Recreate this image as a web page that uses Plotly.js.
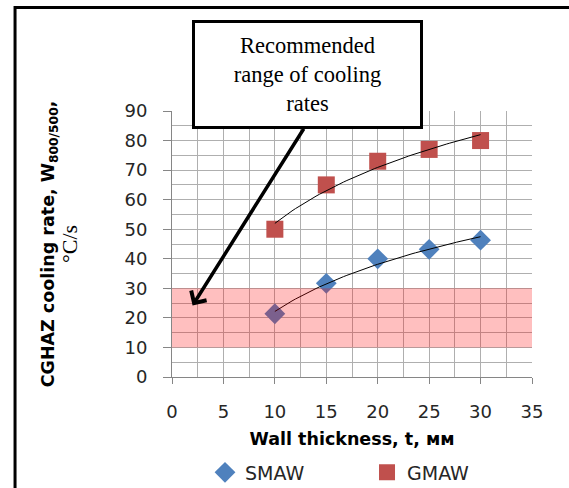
<!DOCTYPE html>
<html>
<head>
<meta charset="utf-8">
<script src="https://cdn.plot.ly/plotly-3.0.1.min.js"></script>
<style>html,body{margin:0;padding:0;background:#fff;}#chart{width:569px;height:488px;}</style>
</head>
<body>
<div id="chart"></div>
<script>
// Data
var thickness = [10, 15, 20, 25, 30];
var smaw = [21.4, 31.7, 40, 43.2, 46.3];
var gmaw = [50, 65, 73, 77, 80];
var xTicks = [0, 5, 10, 15, 20, 25, 30, 35];
var yTicks = [0, 10, 20, 30, 40, 50, 60, 70, 80, 90];
var bandLow = 10, bandHigh = 30;          // recommended range of cooling rates
var arrowTarget = [2, 24.2], arrowTail = [12.9, 84.5];

// Logarithmic trendline (least squares on ln x), like the spreadsheet trendline
function logFit(xs, ys) {
  var lx = xs.map(Math.log);
  var n = xs.length;
  var mx = lx.reduce(function(a,b){return a+b;},0)/n;
  var my = ys.reduce(function(a,b){return a+b;},0)/n;
  var sxy = 0, sxx = 0;
  for (var i = 0; i < n; i++) { sxy += (lx[i]-mx)*(ys[i]-my); sxx += (lx[i]-mx)*(lx[i]-mx); }
  var a = sxy/sxx, b = my - a*mx;
  var tx = [], ty = [];
  var x0 = Math.min.apply(null, xs), x1 = Math.max.apply(null, xs);
  for (var k = 0; k <= 60; k++) { var x = x0 + (x1-x0)*k/60; tx.push(x); ty.push(a*Math.log(x)+b); }
  return {x: tx, y: ty};
}
var smawFit = logFit(thickness, smaw);
var gmawFit = logFit(thickness, gmaw);

var traces = [
  {x: thickness, y: smaw, name: 'SMAW', type: 'scatter', mode: 'markers', legend: 'legend',
   marker: {symbol: 'diamond', size: 16, color: '#4F81BD'}},
  {x: thickness, y: gmaw, name: 'GMAW', type: 'scatter', mode: 'markers', legend: 'legend2',
   marker: {symbol: 'square', size: 17, color: '#C0504D'}},
  {x: smawFit.x, y: smawFit.y, type: 'scatter', mode: 'lines', showlegend: false, hoverinfo: 'skip',
   line: {color: '#000', width: 1}},
  {x: gmawFit.x, y: gmawFit.y, type: 'scatter', mode: 'lines', showlegend: false, hoverinfo: 'skip',
   line: {color: '#000', width: 1}}
];

var gridCol = '#AFAFAF';
var tickFont = {family: '"DejaVu Sans", sans-serif', size: 18, color: '#262626'};
var titleFont = {family: '"DejaVu Sans", sans-serif', size: 17.5, color: '#000'};
var legFont = {family: '"DejaVu Sans", sans-serif', size: 19, color: '#262626'};
var layout = {
  width: 569, height: 488, autosize: false,
  margin: {l: 172, r: 37, t: 111, b: 111, pad: 0, autoexpand: false},
  paper_bgcolor: '#fff', plot_bgcolor: '#fff',
  font: {family: '"DejaVu Sans", sans-serif', color: '#000'},
  xaxis: {
    range: [0, 35], tickvals: xTicks, ticktext: xTicks.map(String), automargin: false,
    showgrid: true, gridcolor: gridCol, gridwidth: 1,
    minor: {dtick: 2.5, showgrid: true, gridcolor: gridCol, gridwidth: 1},
    showline: true, linecolor: '#868686', linewidth: 1,
    ticks: 'outside', ticklen: 6, tickcolor: '#868686', ticklabelstandoff: 12,
    zeroline: false, tickfont: tickFont,
    title: {text: '<b>Wall thickness, t, мм</b>', font: titleFont, standoff: 12}
  },
  yaxis: {
    range: [0, 90], tickvals: yTicks, ticktext: yTicks.map(String), automargin: false,
    showgrid: true, gridcolor: gridCol, gridwidth: 1,
    minor: {dtick: 5, showgrid: true, gridcolor: gridCol, gridwidth: 1},
    showline: true, linecolor: '#868686', linewidth: 1,
    ticks: 'outside', ticklen: 8, tickcolor: '#868686', ticklabelstandoff: 12,
    zeroline: false, tickfont: tickFont,
    title: {text: '<b>CGHAZ cooling rate, W<sub>800/500</sub>,</b><br><span style="font-family:Liberation Serif;font-size:22px">°C/s</span>',
            font: titleFont, standoff: 42}
  },
  showlegend: true,
  legend: {orientation: 'h', x: 0.0917, xanchor: 'left', y: -0.359, yanchor: 'middle',
           font: legFont, bgcolor: 'rgba(0,0,0,0)'},
  legend2: {orientation: 'h', x: 0.5417, xanchor: 'left', y: -0.359, yanchor: 'middle',
           font: legFont, bgcolor: 'rgba(0,0,0,0)'},
  shapes: [
    {type: 'rect', xref: 'x', yref: 'y', x0: 0, x1: 35, y0: bandLow, y1: bandHigh,
     fillcolor: 'rgba(255,0,0,0.25)', line: {width: 0}, layer: 'above'},
    {type: 'rect', xref: 'paper', yref: 'paper', x0: -0.436, x1: 1.2, y0: -0.5, y1: 1.389,
     line: {color: '#000', width: 3}, fillcolor: 'rgba(0,0,0,0)', layer: 'above'}
  ],
  annotations: [
    {xref: 'x', yref: 'y', x: arrowTarget[0], y: arrowTarget[1], axref: 'x', ayref: 'y',
     ax: arrowTail[0], ay: arrowTail[1], text: '', showarrow: true,
     arrowhead: 4, arrowsize: 1, arrowwidth: 3.5, arrowcolor: '#000'},
    {xref: 'paper', yref: 'paper', x: 0.375, y: 1.1377, xanchor: 'center', yanchor: 'middle',
     text: 'Recommended<br>range of cooling<br>rates', showarrow: false,
     font: {family: '"Liberation Serif", serif', size: 22.5, color: '#000'},
     bgcolor: '#fff', bordercolor: '#000', borderwidth: 3, borderpad: 0,
     width: 225, height: 103, align: 'center'}
  ]
};

Plotly.newPlot('chart', traces, layout, {displayModeBar: false, staticPlot: true});
</script>
</body>
</html>
